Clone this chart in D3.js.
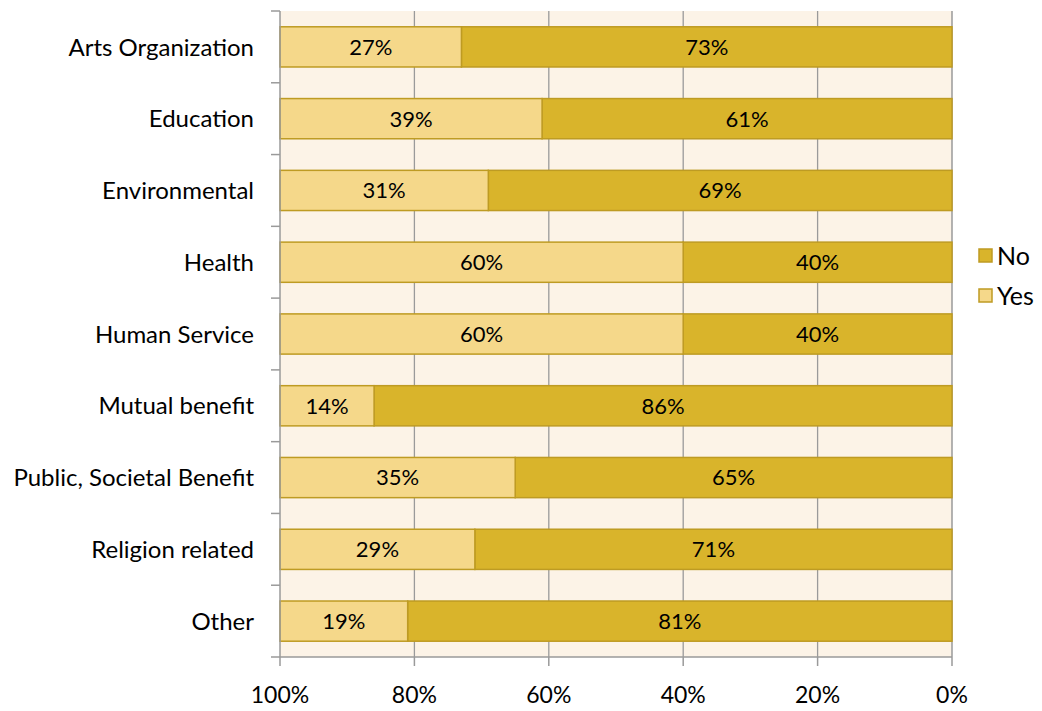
<!DOCTYPE html>
<html><head><meta charset="utf-8">
<script src="https://cdn.jsdelivr.net/npm/d3@7"></script>
<style>body{margin:0;background:#fff;} text{font-family:Lato,"Open Sans",sans-serif;}</style>
</head><body>
<svg id="c" width="1042" height="711"></svg>
<script>
const categories = ["Arts Organization","Education","Environmental","Health","Human Service","Mutual benefit","Public, Societal Benefit","Religion related","Other"];
const yesValues = [27,39,31,60,60,14,35,29,19];
const noValues = [73,61,69,40,40,86,65,71,81];
const tickValues = [100,80,60,40,20,0];
const seriesNames = ["No","Yes"];

const svg = d3.select("#c");
const L=280, R=952, T=11, B=657;
const x = d3.scaleLinear().domain([0,100]).range([R,L]);
const y = d3.scaleBand().domain(categories).range([T,B]).paddingInner(0.44).paddingOuter(0.22);
const yb = d3.scaleBand().domain(categories).range([T,B]);
const cNo="#D9B42B", cYes="#F5D88A", cStroke="#BE9B23", grid="#9a9a9a";

svg.append("rect").attr("x",L).attr("y",T).attr("width",R-L).attr("height",B-T).attr("fill","#FCF3E7");
svg.append("g").selectAll("line").data(tickValues.filter(v=>v>0&&v<100)).join("line")
  .attr("x1",d=>x(d)).attr("x2",d=>x(d)).attr("y1",T).attr("y2",B).attr("stroke",grid).attr("stroke-width",1.3);
svg.append("line").attr("x1",x(0)).attr("x2",x(0)).attr("y1",T).attr("y2",B).attr("stroke",grid).attr("stroke-width",1.5);

const rows = categories.map((c,i)=>({c,yes:yesValues[i],no:noValues[i]}));
const g = svg.append("g");
rows.forEach(r=>{
  const by=y(r.c), bh=y.bandwidth();
  g.append("rect").attr("x",x(r.no)).attr("y",by).attr("width",x(0)-x(r.no)).attr("height",bh)
   .attr("fill",cNo).attr("stroke",cStroke).attr("stroke-width",1.5);
  g.append("rect").attr("x",x(100)).attr("y",by).attr("width",x(r.no)-x(100)).attr("height",bh)
   .attr("fill",cYes).attr("stroke",cStroke).attr("stroke-width",1.5);
  g.append("text").attr("x",(x(0)+x(r.no))/2).attr("y",by+bh/2).attr("dy","0.36em").attr("text-anchor","middle")
   .attr("font-size",22).attr("fill","#000").text(r.no+"%");
  g.append("text").attr("x",(x(100)+x(r.no))/2).attr("y",by+bh/2).attr("dy","0.36em").attr("text-anchor","middle")
   .attr("font-size",22).attr("fill","#000").text(r.yes+"%");
});

// left axis
svg.append("line").attr("x1",L).attr("x2",L).attr("y1",T).attr("y2",B).attr("stroke",grid).attr("stroke-width",1.5);
const bounds = categories.map(c=>yb(c)).concat([B]);
svg.append("g").selectAll("line").data(bounds).join("line")
  .attr("x1",L-9).attr("x2",L).attr("y1",d=>d).attr("y2",d=>d).attr("stroke",grid).attr("stroke-width",1.5);
svg.append("g").selectAll("text").data(categories).join("text")
  .attr("x",L-26).attr("y",d=>yb(d)+yb.bandwidth()/2).attr("dy","0.36em").attr("text-anchor","end")
  .attr("font-size",24).attr("fill","#000").text(d=>d);

// bottom axis
svg.append("line").attr("x1",L).attr("x2",R).attr("y1",B).attr("y2",B).attr("stroke",grid).attr("stroke-width",1.5);
svg.append("g").selectAll("line").data(tickValues).join("line")
  .attr("x1",d=>x(d)).attr("x2",d=>x(d)).attr("y1",B).attr("y2",B+9).attr("stroke",grid).attr("stroke-width",1.5);
svg.append("g").selectAll("text").data(tickValues).join("text")
  .attr("x",d=>x(d)).attr("y",695).attr("dy","0.36em").attr("text-anchor","middle")
  .attr("font-size",23).attr("fill","#000").text(d=>d+"%");

// legend
const leg = svg.append("g");
seriesNames.forEach((s,i)=>{
  const ly = 256 + i*40;
  leg.append("rect").attr("x",979).attr("y",ly-7).attr("width",13).attr("height",13)
    .attr("fill",s==="No"?cNo:cYes).attr("stroke",cStroke).attr("stroke-width",1.5);
  leg.append("text").attr("x",997).attr("y",ly).attr("dy","0.36em").attr("font-size",25).attr("fill","#000").text(s);
});
</script>
</body></html>
